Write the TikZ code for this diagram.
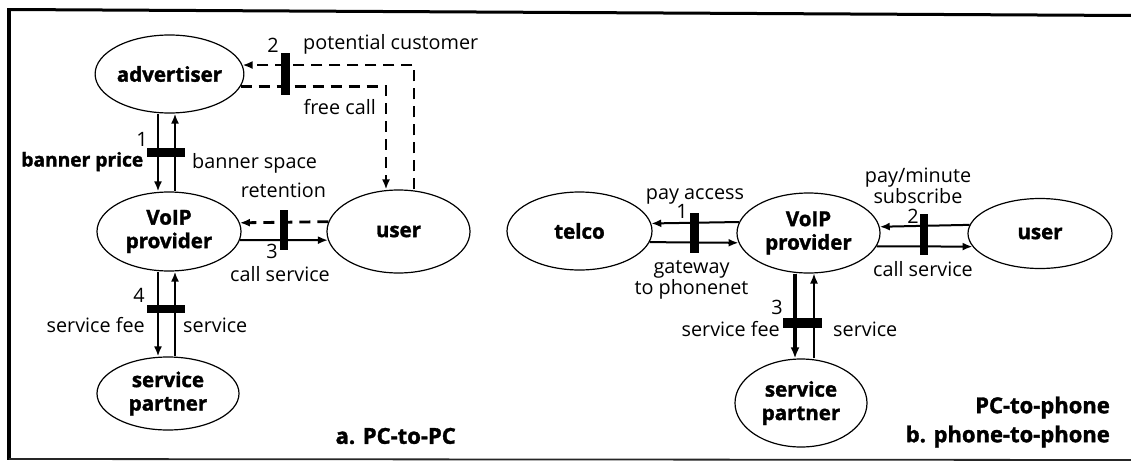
\documentclass[tikz,border=0pt]{standalone}
\usepackage{fontspec}
\setmainfont{Open Sans}[BoldFeatures={FakeBold=1.6}]
\usetikzlibrary{arrows.meta,shapes.geometric}

\tikzset{
  actor/.style={draw, line width=1.2pt, ellipse, inner sep=0pt, align=center,
    font=\bfseries\fontsize{20.5}{23.5}\selectfont},
  lbl/.style={inner sep=0pt, font=\fontsize{19.8}{21}\selectfont,
    text height=13pt, text depth=0pt},
  mlbl/.style={inner sep=0pt, align=center, font=\fontsize{19.8}{21}\selectfont},
  blbl/.style={lbl, font=\bfseries\fontsize{19.2}{21}\selectfont},
  title/.style={inner sep=0pt, align=right, font=\bfseries\fontsize{22}{29}\selectfont},
  flow/.style={line width=2pt, -{Latex[length=10pt,width=8pt]}},
  heavyflow/.style={flow, line width=3.6pt, -{Latex[length=11pt,width=9pt]}},
  lightflow/.style={flow, line width=1.4pt},
  dflow/.style={flow, line width=2.8pt, dash pattern=on 11pt off 7pt},
  crossbar/.style={fill=black, draw=none, inner sep=0pt},
  frameline/.style={line width=3pt, black}
}

\begin{document}
\begin{tikzpicture}[x=1pt, y=-1pt]
\useasboundingbox (0,0) rectangle (1131,463);

% frame
\draw[frameline] (9,9.5) -- (1131,15.5);
\draw[frameline, line width=3.5pt] (9,8) -- (9,460);
\draw[line width=1.8pt, black!85] (9,459) -- (1131,460);

% ---------- a. PC-to-PC ----------
\node[actor, minimum width=143pt, minimum height=78pt] (adv) at (169.5,74) {advertiser};
\node[actor, minimum width=144pt, minimum height=79pt] (vpl) at (169,231.5) {VoIP\\provider};
\node[actor, minimum width=143pt, minimum height=83pt] (usl) at (398.5,231.5) {user};
\node[actor, minimum width=142pt, minimum height=73pt] (spl) at (168,393.5) {service\\partner};

\coordinate (xa) at (158,0);
\coordinate (xb) at (175,0);
\coordinate (xfc) at (386,0);
\coordinate (xpc) at (414,0);

% 1: banner price / banner space
\draw[flow] (adv.south -| xa) -- (vpl.north -| xa);
\draw[flow, line width=2.4pt] (vpl.north -| xb) -- (adv.south -| xb);
\node[crossbar, minimum width=38pt, minimum height=9pt] (bar1) at (166,152.5) {};
\node[lbl] (n1) at (142,140) {1};
\node[blbl, anchor=east] (lbp) at (143.5,160) {banner price};
\node[lbl, anchor=west] (lbs) at (192,162) {banner space};

% 2: free call / potential customer
\draw[dflow] (adv.-10.9) -| (usl.north -| xfc);
\draw[dflow] (usl.north -| xpc) |- (adv.7.4);
\node[crossbar, minimum width=9pt, minimum height=42pt] (bar2) at (285.5,74) {};
\node[lbl] (n2) at (273,46) {2};
\node[lbl, anchor=west] (lpc) at (303,43) {potential customer};
\node[lbl, anchor=east] (lfc) at (376,108) {free call};

% 3: retention / call service
\draw[dflow] (usl.172.2) -- (vpl.7.7);
\draw[flow] (vpl.-7.7) -- (usl.187.8);
\node[crossbar, minimum width=8pt, minimum height=40pt] (bar3) at (283.5,230) {};
\node[lbl] (lret) at (283.5,191) {retention};
\node[lbl] (n3) at (272,252) {3};
\node[lbl] (lcs) at (280,275) {call service};

% 4: service fee / service
\draw[flow] (vpl.south -| xa) -- (spl.north -| xa);
\draw[flow, line width=2.4pt] (spl.north -| xb) -- (vpl.south -| xb);
\node[crossbar, minimum width=38pt, minimum height=8pt] (bar4) at (166,309) {};
\node[lbl] (n4) at (139,296) {4};
\node[lbl, anchor=east] (lsf) at (145,326) {service fee};
\node[lbl, anchor=west] (lsv) at (183,326) {service};

\node[title, anchor=east] (ta) at (456,436) {a. PC-to-PC};

% ---------- b. PC-to-phone / phone-to-phone ----------
\node[actor, minimum width=145pt, minimum height=78pt] (tel) at (579.5,231) {telco};
\node[actor, minimum width=143pt, minimum height=80pt] (vpr) at (808.5,233) {VoIP\\provider};
\node[actor, minimum width=144pt, minimum height=70pt] (usr) at (1040,233.5) {user};
\node[actor, minimum width=132pt, minimum height=88pt] (spr) at (801,403) {service\\partner};

\coordinate (xc) at (795,0);
\coordinate (xd) at (814,0);

% 1: pay access / gateway to phonenet
\draw[flow] (vpr.171.8) -- (tel.6.4);
\draw[flow] (tel.-9.9) -- (vpr.188.2);
\node[crossbar, minimum width=9pt, minimum height=40pt] (bar5) at (694,233) {};
\node[lbl] (lpa) at (695,193) {pay access};
\node[lbl] (n5) at (682,212) {1};
\node[mlbl] (lgw) at (691.5,280) {gateway\\to phonenet};

% 2: pay/minute subscribe / call service
\draw[flow] (usr.173.9) -- (vpr.5.7);
\draw[flow] (vpr.-11.8) -- (usr.191.5);
\node[crossbar, minimum width=8pt, minimum height=41pt] (bar6) at (924,234.5) {};
\node[mlbl] (lpm) at (918,186) {pay/minute\\subscribe};
\node[lbl] (n6) at (913,217) {2};
\node[lbl] (lcs2) at (923,270) {call service};

% 3: service fee / service
\draw[heavyflow] (vpr.south -| xc) -- (spr.north -| xc);
\draw[lightflow] (spr.north -| xd) -- (vpr.south -| xd);
\node[crossbar, minimum width=39pt, minimum height=10pt] (bar7) at (802.5,323) {};
\node[lbl] (n7) at (777,308) {3};
\node[lbl, anchor=east] (lsf2) at (780,330) {service fee};
\node[lbl, anchor=west] (lsv2) at (833,330) {service};

\node[title, anchor=east] (tb) at (1110,422) {PC-to-phone\\b. phone-to-phone};
\end{tikzpicture}
\end{document}
